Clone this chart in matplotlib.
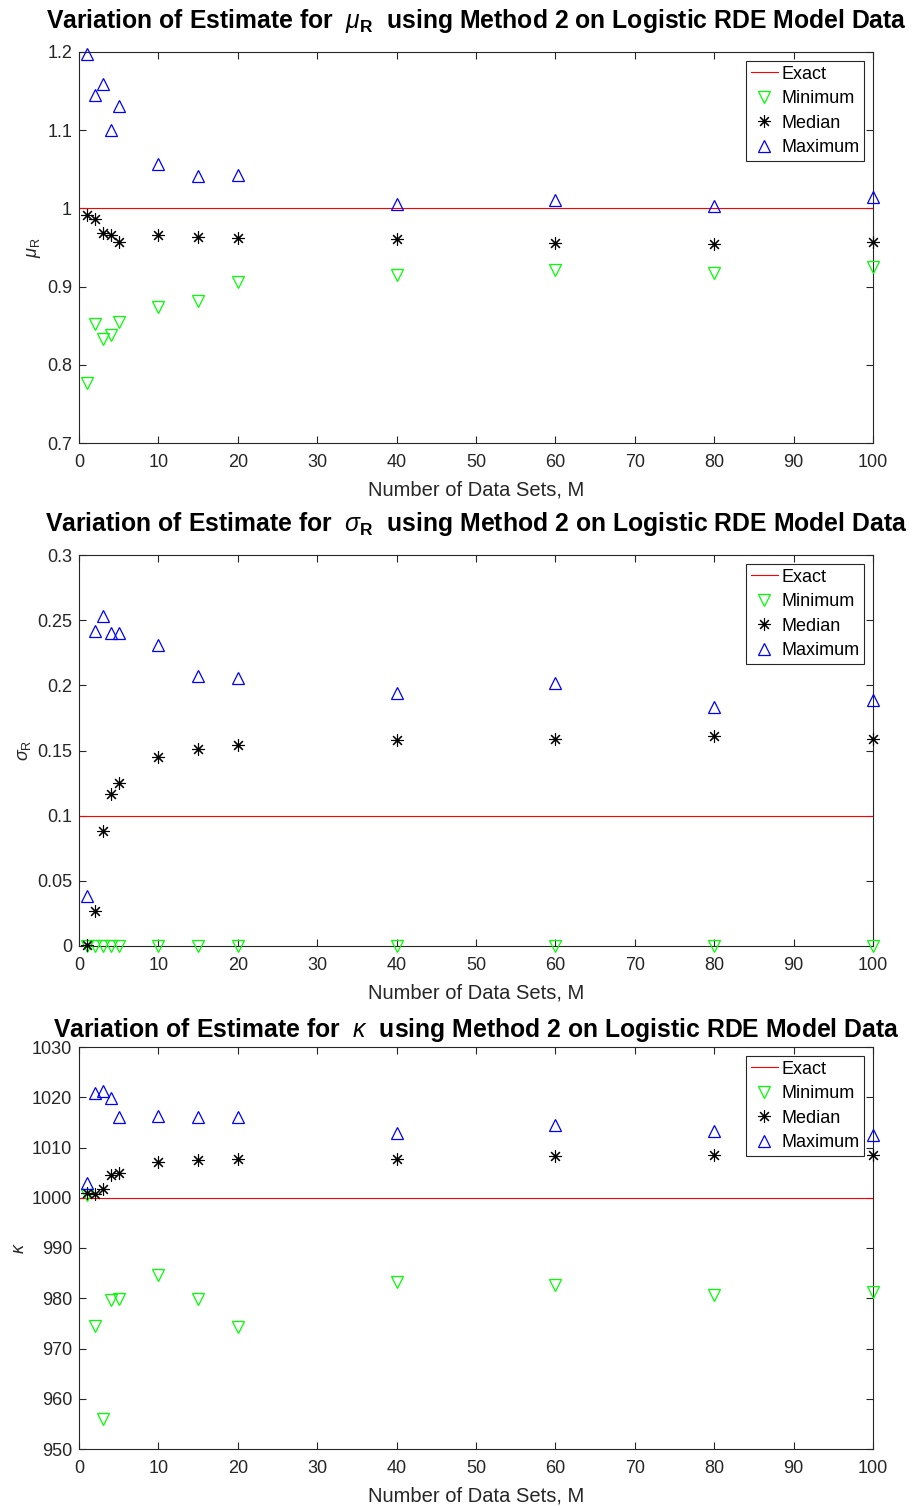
import matplotlib
matplotlib.use("Agg")
import matplotlib.pyplot as plt
from matplotlib.ticker import FixedLocator, FuncFormatter

plt.rcParams['font.family'] = ['Liberation Sans', 'DejaVu Sans']
plt.rcParams['mathtext.fontset'] = 'custom'
plt.rcParams['mathtext.rm'] = 'Liberation Sans'
plt.rcParams['mathtext.it'] = 'Liberation Sans:italic'
plt.rcParams['mathtext.bf'] = 'Liberation Sans:bold'

M = [1, 2, 3, 4, 5, 10, 15, 20, 40, 60, 80, 100]
exact_x = [0, 100]

mu_exact = 1.0
mu_min = [0.777, 0.852, 0.833, 0.838, 0.855, 0.874, 0.882, 0.906, 0.915, 0.921, 0.917, 0.925]
mu_med = [0.991, 0.986, 0.969, 0.966, 0.957, 0.966, 0.963, 0.962, 0.961, 0.956, 0.955, 0.957]
mu_max = [1.198, 1.145, 1.159, 1.100, 1.131, 1.057, 1.041, 1.043, 1.006, 1.011, 1.003, 1.015]

sig_exact = 0.1
sig_min = [0.0, 0.0, 0.0, 0.0, 0.0, 0.0, 0.0, 0.0, 0.0, 0.0, 0.0, 0.0]
sig_med = [0.0005, 0.027, 0.088, 0.117, 0.125, 0.145, 0.151, 0.154, 0.158, 0.159, 0.161, 0.159]
sig_max = [0.038, 0.242, 0.253, 0.240, 0.240, 0.231, 0.207, 0.206, 0.194, 0.202, 0.183, 0.189]

kap_exact = 1000.0
kap_min = [1000.5, 974.5, 956.0, 979.6, 979.8, 984.7, 979.8, 974.3, 983.2, 982.6, 980.7, 981.2]
kap_med = [1001.0, 1000.8, 1001.8, 1004.6, 1004.9, 1007.1, 1007.6, 1007.8, 1007.8, 1008.3, 1008.6, 1008.5]
kap_max = [1003.0, 1020.8, 1021.3, 1019.8, 1016.0, 1016.3, 1016.0, 1016.0, 1012.9, 1014.4, 1013.3, 1012.4]

titles = [r'Variation of Estimate for $\ \mu_{\mathbf{R}}\ $ using Method 2 on Logistic RDE Model Data',
          r'Variation of Estimate for $\ \sigma_{\mathbf{R}}\ $ using Method 2 on Logistic RDE Model Data',
          r'Variation of Estimate for $\ \kappa\ $ using Method 2 on Logistic RDE Model Data']
ylabels = [r'$\mu_\mathrm{R}$', r'$\sigma_\mathrm{R}$', r'$\kappa$']
xlabel = 'Number of Data Sets, M'
legend_labels = ['Exact', 'Minimum', 'Median', 'Maximum']

panels = [
    (mu_exact, mu_min, mu_med, mu_max, (0.7, 1.2), [0.7, 0.8, 0.9, 1.0, 1.1, 1.2]),
    (sig_exact, sig_min, sig_med, sig_max, (0.0, 0.3), [0, 0.05, 0.1, 0.15, 0.2, 0.25, 0.3]),
    (kap_exact, kap_min, kap_med, kap_max, (950, 1030), [950, 960, 970, 980, 990, 1000, 1010, 1020, 1030]),
]

W, H = 917, 1506
fig = plt.figure(figsize=(W / 100, H / 100), dpi=100)
boxes = [(52, 443), (555, 946), (1047, 1449)]
title_base = [28, 531, 1037]
left, right = 79, 873
axcol = '#262626'

for i, (ex, mn, md, mx, ylim, yt) in enumerate(panels):
    top, bot = boxes[i]
    ax = fig.add_axes([left / W, 1 - bot / H, (right - left) / W, (bot - top) / H])
    ax.plot(exact_x, [ex, ex], color='red', lw=0.8, label=legend_labels[0], zorder=2)
    ax.plot(M, mn, linestyle='none', marker='v', ms=9, mfc='none', mec=(0, 1, 0), mew=0.9,
            label=legend_labels[1], zorder=3, clip_on=False)
    ax.plot(M, md, linestyle='none', marker=(8, 2, 0), ms=9, color='black', mew=0.8,
            label=legend_labels[2], zorder=3, clip_on=False)
    ax.plot(M, mx, linestyle='none', marker='^', ms=9, mfc='none', mec=(0, 0, 1), mew=0.9,
            label=legend_labels[3], zorder=3, clip_on=False)
    ax.set_xlim(0, 100)
    ax.set_ylim(*ylim)
    ax.xaxis.set_major_locator(FixedLocator(list(range(0, 101, 10))))
    ax.yaxis.set_major_locator(FixedLocator(yt))
    ax.yaxis.set_major_formatter(FuncFormatter(lambda v, p: ('%g' % round(v, 6))))
    ax.tick_params(direction='in', top=True, right=True, length=5, width=0.8,
                   labelsize=13, colors=axcol)
    ax.tick_params(axis='x', pad=8)
    ax.tick_params(axis='y', pad=5)
    for s in ax.spines.values():
        s.set_color(axcol)
        s.set_linewidth(0.8)
    fig.text(0.5 * (left + right) / W, 1 - title_base[i] / H, titles[i], fontsize=17.8,
             fontweight='bold', ha='center', va='baseline')
    ax.set_xlabel(xlabel, fontsize=14.5, color='#262626', labelpad=7)
    ax.set_ylabel(ylabels[i], fontsize=13, color='#262626', labelpad=3)
    leg = ax.legend(loc='upper right', fontsize=13, frameon=True, fancybox=False,
                    framealpha=1, edgecolor=axcol, borderpad=0.25, labelspacing=0.42,
                    handlelength=1.5, handletextpad=0.2, borderaxespad=0.5)
    leg.get_frame().set_linewidth(0.8)

fig.savefig('out.png', dpi=100)
